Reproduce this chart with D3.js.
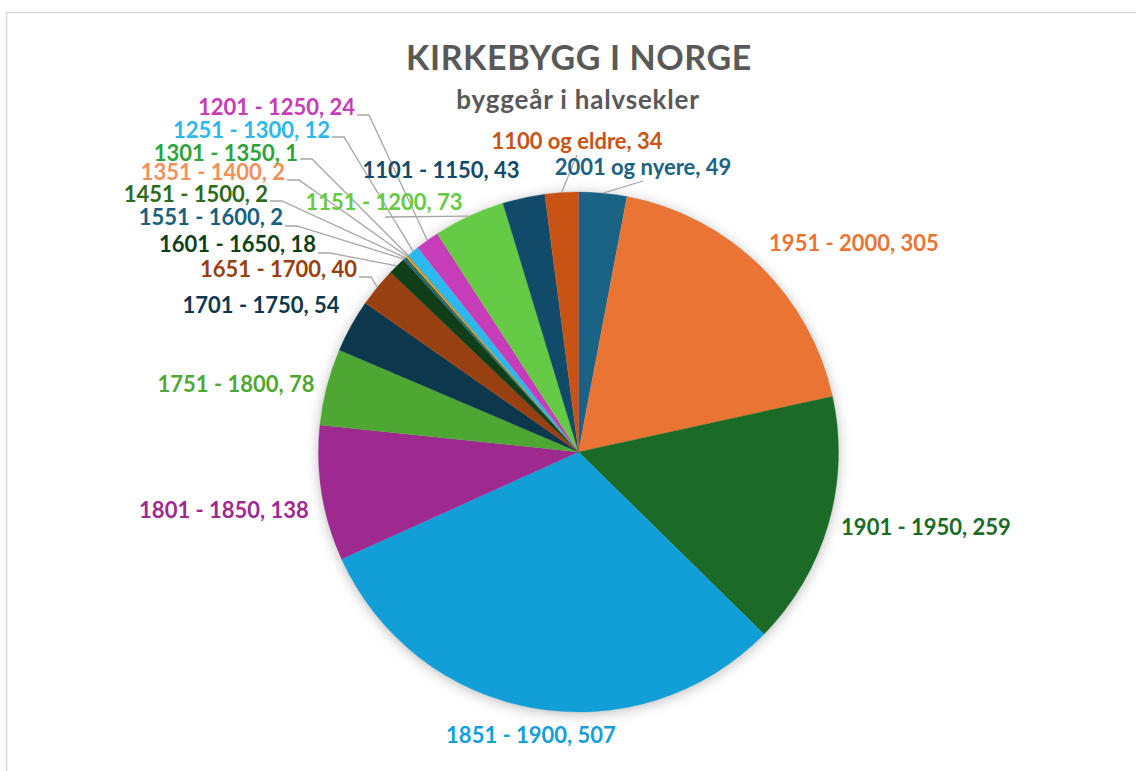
<!DOCTYPE html>
<html>
<head>
<meta charset="utf-8">
<script src="https://cdn.jsdelivr.net/npm/d3@7"></script>
<style>
  html, body { margin: 0; padding: 0; background: #ffffff; }
  svg { display: block; }
  text { font-family: "Lato", "Open Sans", sans-serif; font-weight: 700; }
</style>
</head>
<body>
<svg id="chart" width="1136" height="771"></svg>
<script>
// ---- data ----
const categories = [
  "2001 og nyere", "1951 - 2000", "1901 - 1950", "1851 - 1900", "1801 - 1850",
  "1751 - 1800", "1701 - 1750", "1651 - 1700", "1601 - 1650", "1551 - 1600",
  "1451 - 1500", "1351 - 1400", "1301 - 1350", "1251 - 1300", "1201 - 1250",
  "1151 - 1200", "1101 - 1150", "1100 og eldre"
];
const values = [49, 305, 259, 507, 138, 78, 54, 40, 18, 2, 2, 2, 1, 12, 24, 73, 43, 34];
const colors = [
  "#1a6384", "#ea7434", "#1b6a27", "#129fd8", "#9e2a8f",
  "#4fa733", "#0d374d", "#994012", "#0f3e19", "#17607f",
  "#2f6a1c", "#f0905a", "#2ea23d", "#2cb8ee", "#c73cb8",
  "#66cb44", "#124a69", "#c95314"
];
const title = "KIRKEBYGG I NORGE";
const subtitle = "byggeår i halvsekler";

// ---- layout (label placement, not data) ----
// mode: "c" = centered text, no leader; "e" = right-aligned, elbow leader; "s" = straight leader from given point
const labelLayout = [
  { x: 643, y: 167, anchor: "middle", mode: "s", lx: 643, ly: 181 },
  { x: 854, y: 243, anchor: "middle", mode: "c" },
  { x: 926, y: 527, anchor: "middle", mode: "c" },
  { x: 531, y: 735, anchor: "middle", mode: "c" },
  { x: 224, y: 510, anchor: "middle", mode: "c" },
  { x: 236, y: 384, anchor: "middle", mode: "c" },
  { x: 261, y: 305, anchor: "middle", mode: "c" },
  { x: 357, y: 269, anchor: "end", mode: "e", dy: 8 },
  { x: 316, y: 244, anchor: "end", mode: "e", dy: 9 },
  { x: 283, y: 217, anchor: "end", mode: "e", dy: 9 },
  { x: 268, y: 194, anchor: "end", mode: "e", dy: 7 },
  { x: 285, y: 172, anchor: "end", mode: "e", dy: 8 },
  { x: 298, y: 153, anchor: "end", mode: "e", dy: 6 },
  { x: 330, y: 130, anchor: "end", mode: "e", dy: 7 },
  { x: 355, y: 107, anchor: "end", mode: "e", dy: 8 },
  { x: 384, y: 202, anchor: "middle", mode: "s", lx: 385, ly: 217 },
  { x: 441, y: 170, anchor: "middle", mode: "c" },
  { x: 577, y: 141, anchor: "middle", mode: "s", lx: 577, ly: 155 }
];

const W = 1136, H = 771;
const cx = 578.5, cy = 452, R = 260;

const svg = d3.select("#chart");

// frame
svg.append("rect")
  .attr("x", 6.5).attr("y", 12.5)
  .attr("width", 1200).attr("height", 800)
  .attr("fill", "#ffffff")
  .attr("stroke", "#d9d9d9").attr("stroke-width", 1.5);

// shadow filter
const defs = svg.append("defs");
const f = defs.append("filter").attr("id", "shadow")
  .attr("x", "-20%").attr("y", "-20%").attr("width", "140%").attr("height", "140%");
f.append("feDropShadow")
  .attr("dx", 0).attr("dy", 2)
  .attr("stdDeviation", 7)
  .attr("flood-color", "#000000").attr("flood-opacity", 0.3);

// title
svg.append("text")
  .attr("x", 579).attr("y", 70)
  .attr("text-anchor", "middle")
  .attr("font-size", 34)
  .attr("letter-spacing", 0.6)
  .attr("fill", "#595959")
  .text(title);
svg.append("text")
  .attr("x", 578).attr("y", 109)
  .attr("text-anchor", "middle")
  .attr("font-size", 26)
  .attr("letter-spacing", 0.8)
  .attr("fill", "#595959")
  .text(subtitle);

const data = categories.map((c, i) => ({ cat: c, value: values[i], color: colors[i], lay: labelLayout[i] }));

const pie = d3.pie().sort(null).value(d => d.value);
const arcs = pie(data);
const arc = d3.arc().innerRadius(0).outerRadius(R);

const g = svg.append("g").attr("transform", `translate(${cx},${cy})`);
const shadowG = g.append("g").attr("filter", "url(#shadow)");
shadowG.append("circle").attr("r", R - 1).attr("fill", "#ffffff");

g.selectAll("path.slice")
  .data(arcs)
  .enter().append("path")
  .attr("class", "slice")
  .attr("d", arc)
  .attr("fill", d => d.data.color)
  .attr("stroke", d => d.data.color)
  .attr("stroke-width", 0.3);

// leader lines
const outerPoint = a => {
  const m = (a.startAngle + a.endAngle) / 2;
  return [cx + R * Math.sin(m), cy - R * Math.cos(m)];
};

const leaders = svg.append("g")
  .attr("fill", "none")
  .attr("stroke", "#a6a6a6")
  .attr("stroke-width", 1.3);

arcs.forEach(a => {
  const L = a.data.lay;
  const p = outerPoint(a);
  if (L.mode === "e") {
    const y0 = L.y + L.dy;
    const x0 = L.x + 2;
    leaders.append("path")
      .attr("d", d3.line()([[x0, y0], [x0 + 12, y0], p]));
  } else if (L.mode === "s") {
    leaders.append("path")
      .attr("d", d3.line()([[L.lx, L.ly], p]));
  }
});

// labels
svg.append("g").selectAll("text.lbl")
  .data(arcs)
  .enter().append("text")
  .attr("class", "lbl")
  .attr("x", d => d.data.lay.x)
  .attr("y", d => d.data.lay.y)
  .attr("dy", "0.36em")
  .attr("text-anchor", d => d.data.lay.anchor)
  .attr("font-size", 22)
  .attr("fill", d => d.data.color)
  .text(d => `${d.data.cat}, ${d.data.value}`);
</script>
</body>
</html>
